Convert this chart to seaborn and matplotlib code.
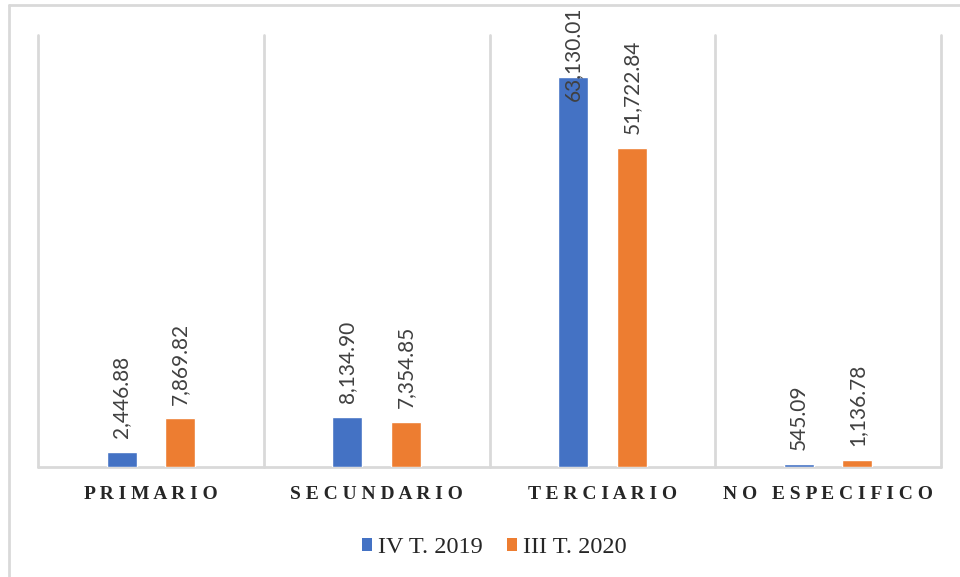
import numpy as np
import pandas as pd
import matplotlib
matplotlib.use("Agg")
import matplotlib.pyplot as plt
import seaborn as sns
from matplotlib.lines import Line2D
from matplotlib.patches import Patch

# data
sectores = ['PRIMARIO', 'SECUNDARIO', 'TERCIARIO', 'NO ESPECIFICO']
series = ['IV T. 2019', 'III T. 2020']
vals_2019 = [2446.88, 8134.90, 63130.01, 545.09]
vals_2020 = [7869.82, 7354.85, 51722.84, 1136.78]
colors = ['#4472C4', '#ED7D31']

df = pd.DataFrame({
    'sector': sectores * 2,
    'serie': [series[0]] * 4 + [series[1]] * 4,
    'valor': vals_2019 + vals_2020,
})

sns.set_style('white')
plt.rcParams['font.family'] = ['Liberation Serif', 'DejaVu Serif']

fig = plt.figure(figsize=(9.6, 5.77), dpi=100)
ax = fig.add_axes([0.0396, 0.1906, 0.9406, 0.7488])

sns.barplot(data=df, x='sector', y='valor', hue='serie', palette=colors,
            width=0.52, gap=0.49, ax=ax, legend=False, saturation=1)

ax.set_ylim(0, 70000)
ax.set_xlim(-0.5, 3.5)
for s in ax.spines.values():
    s.set_visible(False)
grid_c = '#d9d9d9'
for xb in np.arange(-0.5, 4, 1):
    ax.axvline(xb, color=grid_c, lw=2, zorder=0, clip_on=False)
ax.axhline(0, color=grid_c, lw=2, zorder=0.5, clip_on=False)
ax.set_yticks([])
ax.set_xlabel('')
ax.set_ylabel('')

# spaced category labels
def spaced(s):
    return '   '.join(' '.join(w) for w in s.split(' '))
ax.set_xticks(range(len(sectores)))
ax.set_xticklabels([spaced(s) for s in sectores], fontsize=14, fontweight='bold')
ax.tick_params(axis='x', length=0, pad=14)

# value labels, rotated
lab_font = ['Lato', 'DejaVu Sans']
for i, (a, b) in enumerate(zip(vals_2019, vals_2020)):
    for off, v in ((-0.13, a), (0.13, b)):
        ax.annotate(f'{v:,.2f}', xy=(i + off, min(v, 57000)), xytext=(0, 10),
                    textcoords='offset points', rotation=90, ha='center', va='bottom',
                    fontsize=15, family=lab_font, color='#404040', annotation_clip=False)

# legend
handles = [Patch(facecolor=c, edgecolor='none') for c in colors]
fig.legend(handles, series, loc='center', bbox_to_anchor=(0.515, 0.051), ncol=2,
           frameon=False, fontsize=17.5, handlelength=0.42, handleheight=0.42,
           handletextpad=0.25, columnspacing=1.0)

# outer border (top and left only)
fig.add_artist(Line2D([9 / 960, 1], [1 - 5 / 577, 1 - 5 / 577], color=grid_c, lw=2))
fig.add_artist(Line2D([9 / 960, 9 / 960], [0, 1 - 5 / 577], color=grid_c, lw=2))

fig.savefig('out.png', dpi=100)
